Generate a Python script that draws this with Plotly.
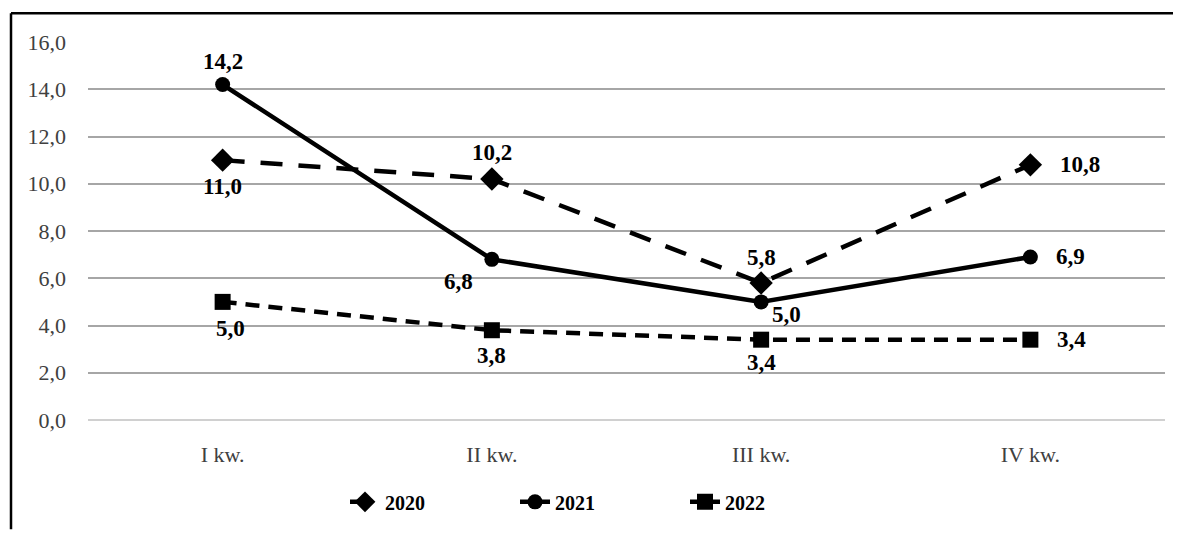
import plotly.graph_objects as go

categories = ["I kw.", "II kw.", "III kw.", "IV kw."]
s2020 = [11.0, 10.2, 5.8, 10.8]
s2021 = [14.2, 6.8, 5.0, 6.9]
s2022 = [5.0, 3.8, 3.4, 3.4]
y_ticks = [0, 2, 4, 6, 8, 10, 12, 14, 16]
series_names = ["2020", "2021", "2022"]

FONT = "Liberation Serif"
NB = "\u00a0"

# label placement (anchor, xshift, yshift) per point
pos2020 = [("center", 0, -26), ("center", 0, 27), ("center", 0, 25), ("left", 28, 0)]
pos2021 = [("center", 0, 23), ("right", -17, -22), ("center", 25, -13), ("left", 24, 0)]
pos2022 = [("center", 8, -27), ("center", 0, -25), ("center", 0, -23), ("left", 25, 0)]

pads = [NB * 17, NB * 17, ""]

fig = go.Figure()
fig.add_trace(go.Scatter(
    x=categories, y=s2020, name="<b>" + series_names[0] + "</b>" + pads[0], mode="lines+markers",
    line=dict(color="black", width=4.5, dash="22px,16px"),
    marker=dict(symbol="diamond", size=18, color="black"),
))
fig.add_trace(go.Scatter(
    x=categories, y=s2021, name="<b>" + series_names[1] + "</b>" + pads[1], mode="lines+markers",
    line=dict(color="black", width=4.5),
    marker=dict(symbol="circle", size=15, color="black"),
))
fig.add_trace(go.Scatter(
    x=categories, y=s2022, name="<b>" + series_names[2] + "</b>" + pads[2], mode="lines+markers",
    line=dict(color="black", width=4.5, dash="14px,9px"),
    marker=dict(symbol="square", size=16, color="black"),
))

annotations = []
for vals, poss in ((s2020, pos2020), (s2021, pos2021), (s2022, pos2022)):
    for c, v, (anc, xs, ys) in zip(categories, vals, poss):
        annotations.append(dict(
            x=c, y=v, xref="x", yref="y", showarrow=False,
            text="<b>" + f"{v:.1f}".replace(".", ",") + "</b>",
            xanchor=anc, yanchor="middle", xshift=xs, yshift=ys,
            font=dict(family=FONT, size=23, color="black"),
        ))

# page body has an 8px margin; compensate
OFF = 8
W, H = 1181 - OFF, 533 - OFF
L, R, T = 88 - OFF, 16, 42 - OFF
B = H - (423 - OFF)
pw, ph = W - L - R, H - T - B

def px_x(p):
    return (p - OFF - L) / pw

def px_y(p):
    return (H - B - (p - OFF)) / ph

fig.update_layout(
    width=W, height=H,
    margin=dict(l=L, r=R, t=T, b=B),
    paper_bgcolor="white", plot_bgcolor="white",
    separators=", ",
    font=dict(family=FONT, size=16, color="#404040"),
    showlegend=True,
    legend=dict(orientation="h", x=px_x(345), xanchor="left", y=-0.165, yanchor="top",
                font=dict(family=FONT, size=20, color="black"),
                tracegroupgap=0),
    xaxis=dict(range=[-0.5, 3.5], showgrid=False, showline=False, zeroline=False,
               ticks="", ticklabelstandoff=19,
               tickfont=dict(family=FONT, size=22, color="#404040")),
    yaxis=dict(range=[0, 16], tickvals=y_ticks, tickformat=".1f",
               showgrid=True, gridcolor="#a6a6a6", gridwidth=1.5,
               zeroline=True, zerolinecolor="#d0d0d0", zerolinewidth=1.5,
               showline=False, ticks="", ticklabelstandoff=21,
               tickfont=dict(family=FONT, size=22, color="#404040")),
    annotations=annotations,
    shapes=[
        dict(type="line", xref="paper", yref="paper",
             x0=px_x(11), x1=px_x(1181), y0=px_y(13), y1=px_y(13),
             line=dict(color="black", width=2.5)),
        dict(type="line", xref="paper", yref="paper",
             x0=px_x(11), x1=px_x(11), y0=px_y(13), y1=px_y(533),
             line=dict(color="black", width=2.5)),
    ],
)

fig.write_html("out.html")
